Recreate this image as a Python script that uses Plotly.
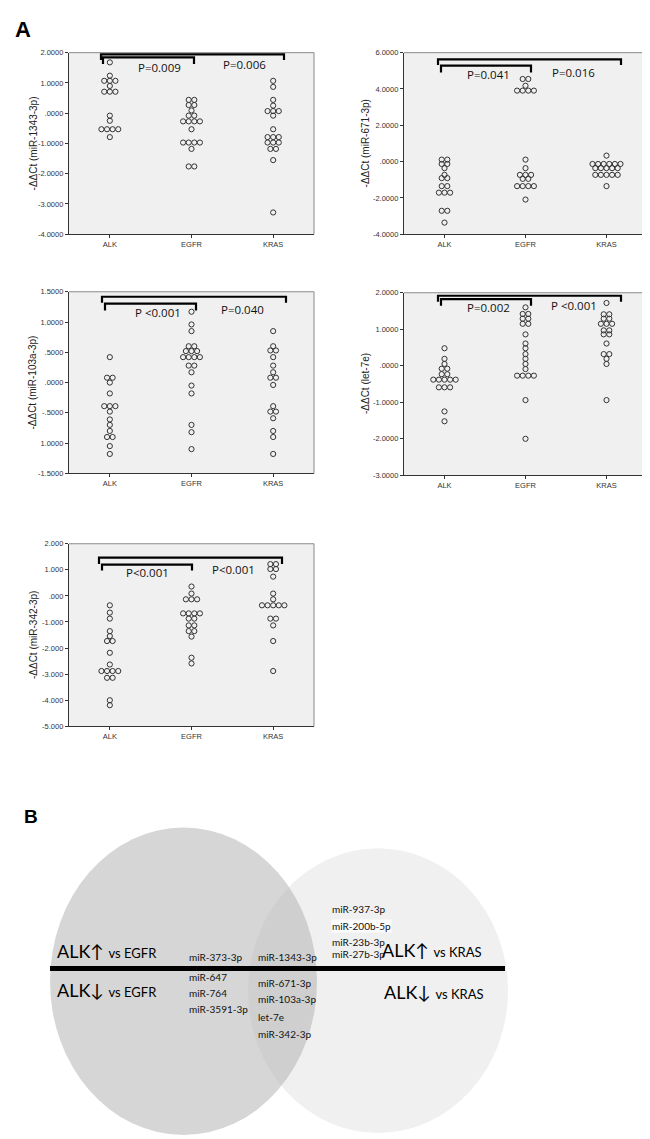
import plotly.graph_objects as go

W, H = 650, 1139

groups = ["ALK", "EGFR", "KRAS"]

# ---- data ----
mir1343_alk = [1.68, 1.24, 1.07, 1.07, 1.07, 0.90, 0.71, 0.71, 0.71, -0.08, -0.25,
               -0.53, -0.53, -0.53, -0.53, -0.79]
mir1343_egfr = [0.44, 0.44, 0.27, 0.27, 0.09, -0.08, -0.08, -0.27, -0.27, -0.27, -0.27,
                -0.53, -0.97, -0.97, -0.97, -0.97, -1.18, -1.76, -1.76]
mir1343_kras = [1.07, 0.87, 0.44, 0.25, 0.07, 0.07, 0.07, -0.08, -0.53, -0.79, -0.79, -0.79,
                -0.97, -0.97, -0.97, -1.18, -1.18, -1.55, -3.28]

mir671_alk = [0.11, 0.11, -0.13, -0.13, -0.36, -0.73, -0.91, -0.91, -1.35, -1.35,
              -1.71, -1.71, -1.71, -2.71, -2.71, -3.36]
mir671_egfr = [4.55, 4.55, 4.18, 3.91, 3.91, 3.91, 3.91, 0.11, -0.36, -0.73, -0.73, -0.73,
               -0.95, -0.95, -1.35, -1.35, -1.35, -1.35, -2.09]
mir671_kras = [0.33, -0.13, -0.13, -0.13, -0.13, -0.13, -0.13, -0.36, -0.36, -0.36, -0.36, -0.36,
               -0.73, -0.73, -0.73, -0.73, -0.73, -1.35]

mir103a_alk = [0.42, 0.08, 0.08, 0.0, -0.18, -0.39, -0.39, -0.39, -0.48, -0.61, -0.70, -0.80,
               -0.90, -0.90, -1.05, -1.18]
mir103a_egfr = [1.17, 0.96, 0.85, 0.60, 0.60, 0.52, 0.52, 0.52, 0.42, 0.42, 0.42, 0.42,
                0.28, 0.28, 0.17, -0.05, -0.18, -0.70, -0.82, -1.10]
mir103a_kras = [0.85, 0.60, 0.53, 0.53, 0.42, 0.28, 0.17, 0.08, 0.08, -0.04, -0.39, -0.48, -0.48,
                -0.59, -0.80, -0.90, -1.18]

let7e_alk = [0.48, 0.19, 0.05, -0.08, -0.08, -0.23, -0.23, -0.38, -0.38, -0.38, -0.38, -0.38,
             -0.59, -0.59, -0.59, -1.25, -1.52]
let7e_egfr = [1.60, 1.42, 1.42, 1.29, 1.29, 1.15, 1.15, 0.86, 0.61, 0.48, 0.32, 0.19, 0.05,
              -0.09, -0.27, -0.27, -0.27, -0.27, -0.94, -2.0]
let7e_kras = [1.72, 1.41, 1.41, 1.29, 1.29, 1.15, 1.15, 1.15, 0.97, 0.97, 0.86, 0.86, 0.61,
              0.32, 0.32, 0.19, 0.05, -0.94]

mir342_alk = [-0.36, -0.64, -0.87, -1.35, -1.54, -1.73, -1.73, -2.18, -2.63, -2.88, -2.88,
              -2.88, -2.88, -3.14, -3.14, -4.0, -4.19]
mir342_egfr = [0.36, 0.09, -0.13, -0.13, -0.13, -0.67, -0.67, -0.67, -0.67, -0.87, -0.87,
               -1.13, -1.13, -1.35, -1.35, -1.56, -2.37, -2.59]
mir342_kras = [1.22, 1.22, 1.03, 1.03, 0.74, 0.09, -0.13, -0.36, -0.36, -0.36, -0.36, -0.36,
               -0.87, -0.87, -1.13, -1.73, -2.88]

ticks_1343 = [-4, -3, -2, -1, 0, 1, 2]
labels_1343 = ["-4.0000", "-3.0000", "-2.0000", "-1.0000", ".0000", "1.0000", "2.0000"]
ticks_671 = [-4, -2, 0, 2, 4, 6]
labels_671 = ["-4.0000", "-2.0000", ".0000", "2.0000", "4.0000", "6.0000"]
ticks_103a = [-1.5, -1.0, -0.5, 0, 0.5, 1.0, 1.5]
labels_103a = ["-1.5000", "1.0000", "-.5000", ".0000", ".5000", "1.0000", "1.5000"]
ticks_let7e = [-3, -2, -1, 0, 1, 2]
labels_let7e = ["-3.0000", "-2.0000", "-1.0000", ".0000", "1.0000", "2.0000"]
ticks_342 = [-5, -4, -3, -2, -1, 0, 1, 2]
labels_342 = ["-5.000", "-4.000", "-3.000", "-2.000", "-1.000", ".000", "1.000", "2.000"]

pvals_1343 = ["P=0.009", "P=0.006"]
pvals_671 = ["P=0.041", "P=0.016"]
pvals_103a = ["P <0.001", "P=0.040"]
pvals_let7e = ["P=0.002", "P <0.001"]
pvals_342 = ["P<0.001", "P<0.001"]

venn_left_only_up = ["miR-373-3p"]
venn_left_only_down = ["miR-647", "miR-764", "miR-3591-3p"]
venn_both_up = ["miR-1343-3p"]
venn_both_down = ["miR-671-3p", "miR-103a-3p", "let-7e", "miR-342-3p"]
venn_right_only_up = ["miR-937-3p", "miR-200b-5p", "miR-23b-3p", "miR-27b-3p"]


def fx(px):
    return px / W


def fy(py):
    return 1 - py / H


panels = [
    dict(title="-ΔΔCt (miR-1343-3p)", data=[mir1343_alk, mir1343_egfr, mir1343_kras],
         yr=[-4, 2], tv=ticks_1343, tt=labels_1343, box=(61, 41, 306, 224), tx=25,
         outer=(93, 42.7, 276, 48.5), inner=(95, 45.7, 186, 52.5),
         pv=pvals_1343, pvpos=[(151, 56), (236, 53)]),
    dict(title="-ΔΔCt (miR-671-3p)", data=[mir671_alk, mir671_egfr, mir671_kras],
         yr=[-4, 6], tv=ticks_671, tt=labels_671, box=(396, 41, 639, 224), tx=357,
         outer=(430, 47.7, 613, 53.5), inner=(433, 54, 523, 61),
         pv=pvals_671, pvpos=[(480, 63), (565, 61)]),
    dict(title="-ΔΔCt (miR-103a-3p)", data=[mir103a_alk, mir103a_egfr, mir103a_kras],
         yr=[-1.5, 1.5], tv=ticks_103a, tt=labels_103a, box=(61, 282, 306, 465), tx=25,
         outer=(94, 287, 278, 293), inner=(97, 294, 188, 301),
         pv=pvals_103a, pvpos=[(150, 303), (234, 300)]),
    dict(title="-ΔΔCt (let-7e)", data=[let7e_alk, let7e_egfr, let7e_kras],
         yr=[-3, 2], tv=ticks_let7e, tt=labels_let7e, box=(396, 283, 639, 467), tx=357,
         outer=(430, 286, 613, 292), inner=(433, 289.5, 523, 296),
         pv=pvals_let7e, pvpos=[(480, 298), (566, 296)]),
    dict(title="-ΔΔCt (miR-342-3p)", data=[mir342_alk, mir342_egfr, mir342_kras],
         yr=[-5, 2], tv=ticks_342, tt=labels_342, box=(61, 536, 306, 720), tx=25,
         outer=(91, 550, 274, 556.5), inner=(94, 557, 184, 563),
         pv=pvals_342, pvpos=[(139, 565), (225, 562)]),
]

fig = go.Figure()
shapes = []
annotations = []
AX_FONT = dict(family="Liberation Sans, Arial, sans-serif", size=7.5, color="#333")
SPACING_PX = 5.6

for i, p in enumerate(panels, start=1):
    x0, y0, x1, y1 = p["box"]
    xa = "x" if i == 1 else f"x{i}"
    ya = "y" if i == 1 else f"y{i}"
    unit_px = (x1 - x0) / 3.0
    d = SPACING_PX / unit_px
    xs, ys = [], []
    for gi, vals in enumerate(p["data"]):
        counts = {}
        for v in vals:
            counts[round(v, 3)] = counts.get(round(v, 3), 0) + 1
        seen = {}
        for v in vals:
            k = round(v, 3)
            n = counts[k]
            j = seen.get(k, 0)
            seen[k] = j + 1
            xs.append(gi + (j - (n - 1) / 2) * d)
            ys.append(v)
    fig.add_trace(go.Scatter(
        x=xs, y=ys, mode="markers", xaxis=xa, yaxis=ya, showlegend=False,
        marker=dict(symbol="circle-open", size=5.2, color="#333",
                    line=dict(width=1, color="#333")),
        hoverinfo="y"))
    xkey = "xaxis" if i == 1 else f"xaxis{i}"
    ykey = "yaxis" if i == 1 else f"yaxis{i}"
    fig.update_layout({
        xkey: dict(domain=[fx(x0), fx(x1)], anchor=ya, range=[-0.5, 2.5],
                   tickvals=[0, 1, 2], ticktext=groups, showgrid=False, zeroline=False,
                   showline=True, linecolor="#333", linewidth=1.3, ticks="outside",
                   ticklen=3, tickcolor="#333", tickfont=AX_FONT, fixedrange=True),
        ykey: dict(domain=[fy(y1), fy(y0)], anchor=xa, range=p["yr"],
                   tickvals=p["tv"], ticktext=p["tt"], showgrid=False, zeroline=False,
                   showline=True, linecolor="#333", linewidth=1.3, ticks="outside",
                   ticklen=3, tickcolor="#333", tickfont=AX_FONT, fixedrange=True),
    })
    # top/right frame
    shapes.append(dict(type="path", xref="paper", yref="paper",
                       path=f"M {fx(x0)},{fy(y0)} L {fx(x1)},{fy(y0)} L {fx(x1)},{fy(y1)}",
                       line=dict(color="#8a8a8a", width=1)))
    # brackets
    for (bx0, by, bx1, bdrop) in (p["outer"], p["inner"]):
        shapes.append(dict(type="path", xref="paper", yref="paper",
                           path=(f"M {fx(bx0)},{fy(bdrop)} L {fx(bx0)},{fy(by)} "
                                 f"L {fx(bx1)},{fy(by)} L {fx(bx1)},{fy(bdrop)}"),
                           line=dict(color="black", width=2.2)))
    for txt, (tx, ty) in zip(p["pv"], p["pvpos"]):
        annotations.append(dict(text=txt, x=fx(tx), y=fy(ty), xref="paper", yref="paper",
                                showarrow=False, xanchor="center", yanchor="middle",
                                font=dict(family="Open Sans, sans-serif", size=11.5,
                                          color="#111")))
    annotations.append(dict(text=p["title"], x=fx(p["tx"]), y=fy((y0 + y1) / 2),
                            xref="paper", yref="paper", showarrow=False, textangle=-90,
                            xanchor="center", yanchor="middle",
                            font=dict(family="Liberation Sans, Arial, sans-serif",
                                      size=10, color="#222")))

# panel letters
annotations.append(dict(text="<b>A</b>", x=fx(15), y=fy(18), xref="paper", yref="paper",
                        showarrow=False, xanchor="center", yanchor="middle",
                        font=dict(family="Liberation Sans, Arial", size=22, color="black")))
annotations.append(dict(text="<b>B</b>", x=fx(23), y=fy(811), xref="paper", yref="paper",
                        showarrow=False, xanchor="center", yanchor="middle",
                        font=dict(family="Liberation Sans, Arial", size=19, color="black")))

# ---- Venn diagram ----
shapes.append(dict(type="circle", xref="paper", yref="paper",
                   x0=fx(240), x1=fx(500), y0=fy(1130), y1=fy(843),
                   fillcolor="#f0f0f0", line=dict(width=0), layer="below"))
shapes.append(dict(type="circle", xref="paper", yref="paper",
                   x0=fx(42), x1=fx(309), y0=fy(1132), y1=fy(822),
                   fillcolor="rgba(180,180,180,0.55)", line=dict(width=0), layer="below"))
shapes.append(dict(type="line", xref="paper", yref="paper",
                   x0=fx(42), x1=fx(497), y0=fy(964), y1=fy(964),
                   line=dict(color="black", width=5)))

VF = "Lato, sans-serif"


def big_label(arrow, vs):
    return f"ALK{arrow} <span style='font-size:13px'>vs {vs}</span>"


for txt, (tx, ty) in [(big_label("↑", "EGFR"), (48, 946)),
                      (big_label("↓", "EGFR"), (48, 986)),
                      (big_label("↑", "KRAS"), (373, 945)),
                      (big_label("↓", "KRAS"), (375, 988))]:
    annotations.append(dict(text=txt, x=fx(tx), y=fy(ty), xref="paper", yref="paper",
                            showarrow=False, xanchor="left", yanchor="middle", borderpad=0,
                            font=dict(family=VF, size=18, color="black")))


def small(lbls, xpx, ypxs, bg=None):
    for t, yy in zip(lbls, ypxs):
        a = dict(text=t, x=fx(xpx), y=fy(yy), xref="paper", yref="paper",
                 showarrow=False, xanchor="left", yanchor="middle", borderpad=0,
                 font=dict(family=VF, size=10, color="#111"))
        if bg and t == "miR-200b-5p":
            a["bgcolor"] = bg
        annotations.append(a)


small(venn_left_only_up, 180, [953])
small(venn_left_only_down, 180, [973, 989, 1005])
small(venn_both_up, 249, [953])
small(venn_both_down, 249, [979, 995, 1013, 1030])
small(venn_right_only_up, 323, [904, 921, 937, 950], bg="rgba(255,255,255,0.8)")

fig.update_layout(width=W, height=H, margin=dict(l=0, r=0, t=0, b=0),
                  paper_bgcolor="white", plot_bgcolor="#f0f0f0",
                  shapes=shapes, annotations=annotations, showlegend=False)

fig.write_html("out.html")
